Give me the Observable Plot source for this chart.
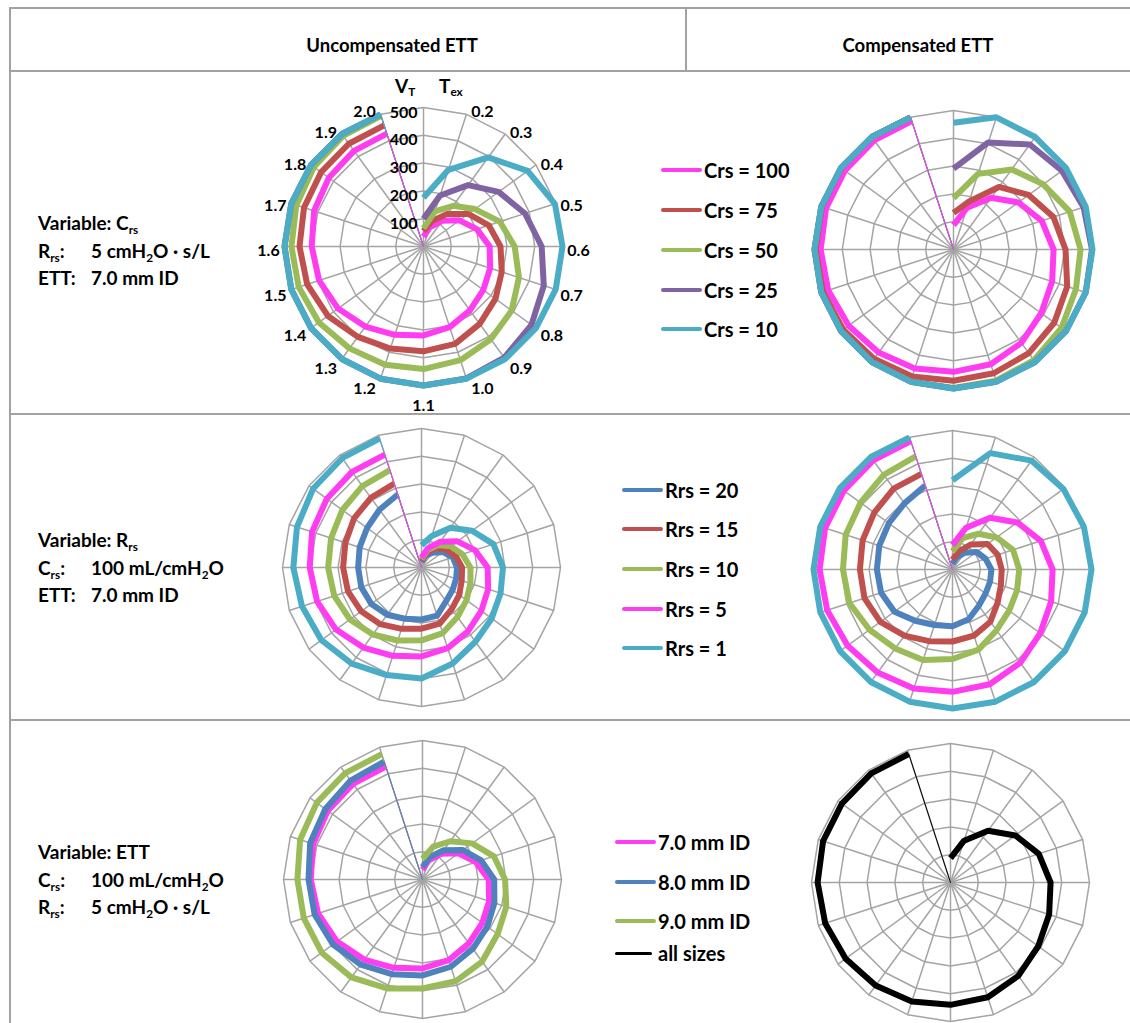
<!DOCTYPE html>
<html><head><meta charset="utf-8">
<script src="https://cdn.jsdelivr.net/npm/d3@7"></script>
<script src="https://cdn.jsdelivr.net/npm/@observablehq/plot@0.6"></script>
<style>
body{margin:0;background:#fff;}
#page{position:relative;width:1130px;height:1023px;overflow:hidden;font-family:Lato,"Open Sans",sans-serif;font-weight:700;color:#000;background:#fff;}
.hl{position:absolute;height:2px;background:#a2a2a2;}
.vl{position:absolute;width:2px;background:#a2a2a2;}
.hdr{position:absolute;font-size:18.5px;transform:translate(-50%,-50%);white-space:nowrap;}
.info{position:absolute;left:38px;font-size:19px;line-height:27.5px;white-space:nowrap;}
.info .k{display:inline-block;width:53px;}
sub{font-size:0.62em;vertical-align:-0.32em;line-height:0;}
.lg{position:absolute;display:flex;align-items:center;white-space:nowrap;font-size:20px;transform:translateY(-50%);}
.lg .sw{display:inline-block;width:41px;height:4px;border-radius:2px;margin-right:2px;}
.chart{position:absolute;}
.axh{position:absolute;font-size:19px;white-space:nowrap;line-height:19px;height:19px;}
.axh sub{vertical-align:-0.22em;}
</style></head><body><div id="page"></div>
<script>
// ---------- data ----------
const tex = [0.1,0.2,0.3,0.4,0.5,0.6,0.7,0.8,0.9,1.0,1.1,1.2,1.3,1.4,1.5,1.6,1.7,1.8,1.9,2.0];
const vtTicks = [100,200,300,400,500];

// Crs = 100, Rrs = 5, ETT 7.0 (same condition appears in all three rows)
const uncompBase = [35,72,114,160,202,238,252,266,284,305,320,334,356,380,395,402,414,421,425,427];
const compBase   = [88,158,230,288,334,360,373,390,415,434,440,450,458,466,474,478,482,483,485,486];

// Row 1: variable Crs
const crsLabels = ["Crs = 100","Crs = 75","Crs = 50","Crs = 25","Crs = 10"];
const crsUncomp75 = [55,96,145,199,247,277,296,320,344,368,377,386,402,425,440,446,452,455,457,458];
const crsUncomp50 = [65,133,181,229,289,328,361,392,412,430,441,447,453,465,472,475,481,487,492,494];
const crsUncomp25 = [100,193,273,334,384,425,455,480,494,499,500,500,500,500,500,500,500,500,500,500];
const crsUncomp10 = [175,290,396,463,497,500,500,500,500,500,500,500,500,500,500,500,500,500,500,500];
const crsComp75 = [132,182,278,334,378,403,430,448,461,468,472,480,486,490,494,496,498,499,500,500];
const crsComp50 = [185,286,356,399,440,457,463,480,492,496,498,499,500,500,500,500,500,500,500,500];
const crsComp25 = [291,405,467,482,492,498,500,500,500,500,500,500,500,500,500,500,500,500,500,500];
const crsComp10 = [456,500,500,500,500,500,500,500,500,500,500,500,500,500,500,500,500,500,500,500];

// Row 2: variable Rrs
const rrsLabels = ["Rrs = 20","Rrs = 15","Rrs = 10","Rrs = 5","Rrs = 1"];
const rrsUncomp20 = [20,45,65,95,118,128,131,138,150,182,187,194,210,223,228,228,234,242,257,276];
const rrsUncomp15 = [25,55,85,110,130,146,152,168,185,212,220,232,252,268,278,282,288,300,310,317];
const rrsUncomp10 = [30,65,100,130,155,176,185,200,220,248,262,276,298,318,330,336,342,352,362,368];
const rrsUncomp1  = [80,119,177,225,272,293,299,312,330,363,399,407,427,445,452,461,471,482,486,488];
const rrsComp20 = [20,45,75,107,125,140,142,147,161,188,204,210,228,258,270,272,277,283,294,318];
const rrsComp15 = [35,67,111,156,171,177,183,201,232,250,259,271,294,321,333,333,340,348,360,362];
const rrsComp10 = [65,119,159,196,229,240,244,252,270,303,322,342,351,369,390,394,404,409,421,428];
const rrsComp1  = [321,440,484,493,497,500,500,500,500,500,500,500,500,500,500,500,500,500,500,500];

// Row 3: variable ETT
const ettLabels = ["7.0 mm ID","8.0 mm ID","9.0 mm ID","all sizes"];
const ettUncomp8 = [45,85,130,180,222,258,272,288,308,330,345,358,378,398,408,410,425,432,440,446];
const ettUncomp9 = [75,124,170,221,270,297,317,334,365,385,392,412,435,448,449,450,463,470,473,474];

const C = {pink:"#ff3df0", red:"#c0504d", green:"#9bbb59", purple:"#8064a2", cyan:"#4bacc6", blue:"#4f81bd", black:"#000000"};

// ---------- layout helpers ----------
const page = document.getElementById("page");
function el(cls, css, html){const d=document.createElement("div");d.className=cls;Object.assign(d.style,css);if(html!==undefined)d.innerHTML=html;page.appendChild(d);return d;}

// table rules
el("hl",{left:"9px",top:"7px",width:"1121px"});
el("hl",{left:"9px",top:"70px",width:"1121px"});
el("hl",{left:"9px",top:"413px",width:"1121px"});
el("hl",{left:"9px",top:"719px",width:"1121px"});
el("vl",{left:"9px",top:"7px",height:"1016px"});
el("vl",{left:"685px",top:"7px",height:"64px"});

el("hdr",{left:"392px",top:"45px"},"Uncompensated ETT");
el("hdr",{left:"918px",top:"45px"},"Compensated ETT");

el("info",{top:"209px"},'Variable: C<sub>rs</sub><br><span class="k">R<sub>rs</sub>:</span>5 cmH<sub>2</sub>O · s/L<br><span class="k">ETT:</span>7.0 mm ID');
el("info",{top:"526px"},'Variable: R<sub>rs</sub><br><span class="k">C<sub>rs</sub>:</span>100 mL/cmH<sub>2</sub>O<br><span class="k">ETT:</span>7.0 mm ID');
el("info",{top:"838px"},'Variable: ETT<br><span class="k">C<sub>rs</sub>:</span>100 mL/cmH<sub>2</sub>O<br><span class="k">R<sub>rs</sub>:</span>5 cmH<sub>2</sub>O · s/L');

function legend(labels, colors, x, ys, widths){
  labels.forEach((t,i)=>{
    const w = widths ? widths[i] : 4;
    const len = colors[i]===C.black ? 37 : 41;
    el("lg",{left:x+"px",top:ys[i]+"px"},`<span class="sw" style="background:${colors[i]};height:${w}px;width:${len}px;margin-right:${41-len+2}px"></span>${t}`);
  });
}
legend(crsLabels,[C.pink,C.red,C.green,C.purple,C.cyan],661,[170,210,250,290,329]);
legend(rrsLabels,[C.blue,C.red,C.green,C.pink,C.cyan],622,[490,529,569,609,648]);
legend(ettLabels,[C.pink,C.blue,C.green,C.black],615,[842,882,921,953],[4,4,4,3]);

// ---------- radar ----------
const DEG = Math.PI/180;
const ang = i => i*360/tex.length*DEG;
const RPX = 139, K = 500/RPX;   // pixels of the outer ring, data units per pixel

function radar({series, cx, cy, labels=false, topColor}){
  const S=400, M=(S-2*RPX)/2;
  const rings = vtTicks.flatMap(v => tex.concat([tex[0]]).map((t,i)=>({ring:v, x:v*Math.sin(ang(i)), y:v*Math.cos(ang(i))})));
  const spokes = tex.map((t,i)=>({x2:500*Math.sin(ang(i)), y2:500*Math.cos(ang(i))}));
  const pts = series.flatMap(s => s.values.map((v,i)=>({name:s.name, color:s.color, x:v*Math.sin(ang(i)), y:v*Math.cos(ang(i))})));
  const tailSeries = series.slice().sort((a,b)=>(a.color===topColor)-(b.color===topColor));
  const tails = tailSeries.flatMap(s => {const n=s.values.length-1, v=s.values[n];
    return [{name:s.name,color:s.color,x:v*Math.sin(ang(n)),y:v*Math.cos(ang(n))},{name:s.name,color:s.color,x:0,y:0}];});
  const marks = [
    Plot.line(rings,{x:"x",y:"y",z:"ring",stroke:"#a4a4a4",strokeWidth:1.5}),
    Plot.link(spokes,{x1:0,y1:0,x2:"x2",y2:"y2",stroke:"#a4a4a4",strokeWidth:1.5}),
    Plot.line(pts,{x:"x",y:"y",z:"name",stroke:"color",strokeWidth:6,strokeLinejoin:"round",strokeLinecap:"butt"}),
    Plot.line(tails,{x:"x",y:"y",z:"name",stroke:"color",strokeWidth:1})
  ];
  if(labels){
    const lab = tex.map((t,i)=>{
      const s = Math.sin(ang(i)), c = Math.cos(ang(i));
      const side = Math.abs(s)<0.01 ? 0 : Math.sign(s);
      const ox = RPX*s + side*16;
      const oy = -RPX*c + (side===0 ? 20 : 4 - 7*c);
      return {t, i, x: ox*K, y: -oy*K};
    }).filter(d=>d.i>0);
    marks.push(Plot.text(lab,{x:"x",y:"y",text:d=>d.t.toFixed(1),fontSize:16,fontWeight:"bold",fill:"#000",textAnchor:"middle",lineAnchor:"middle"}));
    marks.push(Plot.text(vtTicks,{x:0,y:d=>d,text:d=>String(d),fontSize:16,fontWeight:"bold",fill:"#000",textAnchor:"end",lineAnchor:"middle",dx:-6,dy:5}));
  }
  const svg = Plot.plot({
    width:S,height:S,marginTop:M,marginBottom:M,marginLeft:M,marginRight:M,
    x:{domain:[-500,500],axis:null},y:{domain:[-500,500],axis:null},
    color:{type:"identity"},
    style:{background:"transparent",overflow:"visible",fontFamily:"Lato, 'Open Sans', sans-serif"},
    marks
  });
  const wrap = el("chart",{left:(cx-S/2)+"px",top:(cy-S/2)+"px",width:S+"px",height:S+"px"});
  wrap.appendChild(svg);
}

radar({cx:423,cy:246,labels:true,topColor:C.pink,series:[
  {name:crsLabels[0],color:C.pink,values:uncompBase},
  {name:crsLabels[1],color:C.red,values:crsUncomp75},
  {name:crsLabels[2],color:C.green,values:crsUncomp50},
  {name:crsLabels[3],color:C.purple,values:crsUncomp25},
  {name:crsLabels[4],color:C.cyan,values:crsUncomp10}]});
radar({cx:953,cy:249,topColor:C.pink,series:[
  {name:crsLabels[0],color:C.pink,values:compBase},
  {name:crsLabels[1],color:C.red,values:crsComp75},
  {name:crsLabels[2],color:C.green,values:crsComp50},
  {name:crsLabels[3],color:C.purple,values:crsComp25},
  {name:crsLabels[4],color:C.cyan,values:crsComp10}]});
radar({cx:421,cy:567,topColor:C.pink,series:[
  {name:rrsLabels[0],color:C.blue,values:rrsUncomp20},
  {name:rrsLabels[1],color:C.red,values:rrsUncomp15},
  {name:rrsLabels[2],color:C.green,values:rrsUncomp10},
  {name:rrsLabels[3],color:C.pink,values:uncompBase},
  {name:rrsLabels[4],color:C.cyan,values:rrsUncomp1}]});
radar({cx:952,cy:569,topColor:C.pink,series:[
  {name:rrsLabels[0],color:C.blue,values:rrsComp20},
  {name:rrsLabels[1],color:C.red,values:rrsComp15},
  {name:rrsLabels[2],color:C.green,values:rrsComp10},
  {name:rrsLabels[3],color:C.pink,values:compBase},
  {name:rrsLabels[4],color:C.cyan,values:rrsComp1}]});
radar({cx:422,cy:879,topColor:C.blue,series:[
  {name:ettLabels[0],color:C.pink,values:uncompBase},
  {name:ettLabels[1],color:C.blue,values:ettUncomp8},
  {name:ettLabels[2],color:C.green,values:ettUncomp9}]});
radar({cx:950,cy:882,topColor:C.black,series:[
  {name:ettLabels[3],color:C.black,values:compBase}]});

// axis headers of the first radar
el("axh",{left:"395px",top:"76px"},"V<sub>T</sub>");
el("axh",{left:"439px",top:"76px"},"T<sub>ex</sub>");
</script></body></html>
